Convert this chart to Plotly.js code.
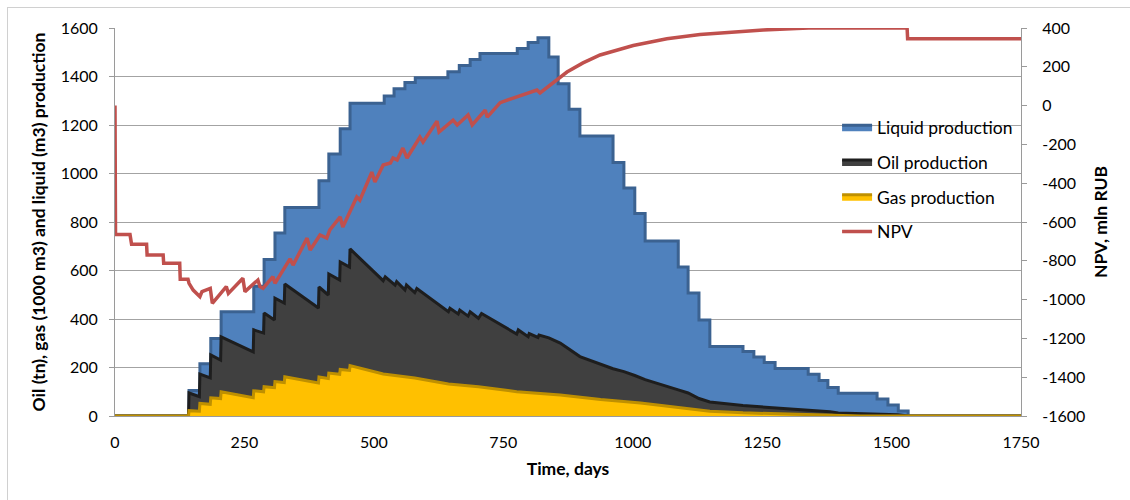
<!DOCTYPE html>
<html>
<head>
<meta charset="utf-8">
<script src="https://cdn.plot.ly/plotly-3.0.1.min.js"></script>
<style>
  html, body { margin: 0; padding: 0; background: #fff; }
  #wrap { position: relative; width: 1130px; height: 500px; overflow: hidden; }
  #chart { position: absolute; left: 0; top: 0; width: 1130px; height: 500px; }
  #frame { position: absolute; left: 7px; top: 7px; width: 1140px; height: 510px; border: 1px solid #d0d0d0; pointer-events: none; }
</style>
</head>
<body>
<div id="wrap"><div id="chart"></div><div id="frame"></div></div>
<script>
// ---- data ----
const seriesNames = ['Liquid production', 'Oil production', 'Gas production', 'NPV'];

// Liquid production: step levels (value holds from each day until the next)
const liquidDays = [0, 143, 164, 185, 205, 268, 288, 309, 328, 394, 413, 435, 454, 520, 539, 560, 580,
  643, 665, 686, 705, 777, 798, 817, 838, 856, 877, 898, 962, 983, 1004, 1024, 1088, 1107, 1128, 1149,
  1213, 1234, 1254, 1275, 1339, 1360, 1377, 1397, 1472, 1493, 1513, 1532, 1750];
const liquidValues = [0, 105, 215, 320, 430, 535, 645, 755, 860, 970, 1080, 1185, 1290, 1320, 1350, 1375, 1395,
  1420, 1445, 1470, 1495, 1515, 1540, 1560, 1480, 1370, 1265, 1155, 1045, 940, 835, 722, 614, 507, 396, 287,
  266, 243, 221, 196, 172, 146, 118, 94, 70, 45, 21, 0, 0];

// Oil production (sawtooth)
const oilDays = [0, 142, 143, 163, 164, 184, 185, 204, 205, 267, 268, 287, 288, 308, 309, 327, 328,
  393, 394, 412, 413, 434, 435, 453, 454, 518, 522, 541, 544, 560, 563, 579, 583,
  644, 647, 663, 666, 682, 686, 702, 708, 776, 779, 798, 800, 817, 819, 838,
  860, 879, 898, 962, 983, 1004, 1024, 1088, 1107, 1128, 1149, 1213, 1275, 1342, 1381, 1397, 1512, 1532, 1750];
const oilValues = [0, 0, 95, 80, 173, 157, 252, 231, 326, 264, 355, 342, 425, 396, 486, 466, 544,
  445, 532, 499, 586, 561, 635, 614, 689, 558, 574, 540, 554, 520, 540, 509, 526,
  430, 444, 421, 437, 412, 430, 403, 423, 338, 355, 327, 340, 324, 334, 322,
  301, 272, 245, 195, 183, 167, 150, 108, 95, 72, 58, 43, 33, 25, 18, 12, 5, 0, 0];

// Gas production
const gasDays = [0, 142, 143, 163, 164, 184, 185, 204, 205, 267, 268, 287, 288, 308, 309, 327, 328,
  393, 394, 412, 413, 434, 435, 453, 454, 518, 579, 644, 702, 776, 860, 938, 1015, 1066, 1149, 1213, 1317, 1397, 1440, 1750];
const gasValues = [0, 0, 22, 20, 52, 48, 75, 72, 100, 75, 104, 100, 121, 117, 142, 138, 162,
  136, 161, 155, 177, 172, 192, 188, 208, 173, 157, 132, 121, 100, 87, 68, 54, 40, 20, 13, 6, 3, 0, 0];

// NPV, mln RUB (right axis)
const npvDays = [0, 1, 29, 32, 61, 62, 93, 94, 125, 126, 141, 143, 151, 164, 168, 184, 188, 215, 219,
  247, 251, 276, 280, 286, 305, 309, 338, 344, 371, 377, 396, 409, 415, 435, 440, 467, 473, 496, 502,
  518, 532, 537, 545, 556, 564, 589, 595, 622, 626, 653, 661, 682, 690, 715, 719, 744, 769, 796, 815, 821,
  840, 873, 904, 937, 1001, 1066, 1130, 1194, 1252, 1317, 1340, 1530, 1531, 1750];
const npvValues = [0, -665, -665, -715, -715, -770, -770, -812, -812, -895, -895, -916, -951, -985, -959, -942, -1019, -933, -968,
  -890, -959, -899, -933, -942, -882, -916, -790, -822, -683, -744, -667, -683, -641, -574, -626, -471, -487, -343, -394,
  -306, -296, -270, -280, -219, -270, -162, -188, -80, -136, -75, -100, -48, -100, -23, -59, 15, 39, 65, 80, 65,
  106, 173, 220, 261, 310, 345, 366, 380, 390, 398, 400, 400, 345, 345];

const xTickVals = [0, 250, 500, 750, 1000, 1250, 1500, 1750];
const xMarkVals = [0, 500, 1000, 1500];
const npvTickVals = [-1600, -1400, -1200, -1000, -800, -600, -400, -200, 0, 200, 400];
const npvTickText = npvTickVals.map(v => String(v));

// ---- styles ----
const FONT = 'Lato, "Open Sans", "DejaVu Sans", sans-serif';
const GRID = '#a3a3a3';
const AXIS = '#9a9a9a';

const traces = [
  { x: liquidDays, y: liquidValues, name: seriesNames[0], type: 'scatter', mode: 'lines',
    line: { shape: 'hv', color: '#3b6291', width: 3 }, fill: 'tozeroy', fillcolor: '#4f81bd',
    legendgroup: 'a', hoverinfo: 'skip' },
  { x: oilDays, y: oilValues, name: seriesNames[1], type: 'scatter', mode: 'lines',
    line: { color: '#1e1e1e', width: 3 }, fill: 'tozeroy', fillcolor: '#404040',
    legendgroup: 'b', hoverinfo: 'skip' },
  { x: gasDays, y: gasValues, name: seriesNames[2], type: 'scatter', mode: 'lines',
    line: { color: '#bf9000', width: 3 }, fill: 'tozeroy', fillcolor: '#ffc000',
    legendgroup: 'c', hoverinfo: 'skip' },
  { x: npvDays, y: npvValues, name: seriesNames[3], type: 'scatter', mode: 'lines', yaxis: 'y2',
    line: { color: '#c0504d', width: 3.5 }, legendgroup: 'd', hoverinfo: 'skip' }
];

const layout = {
  width: 1130, height: 500,
  margin: { l: 115, r: 109, t: 28, b: 84 },
  paper_bgcolor: '#ffffff', plot_bgcolor: '#ffffff',
  font: { family: FONT, size: 16, color: '#000' },
  showlegend: true,
  legend: { x: 0.797, xanchor: 'left', y: 0.79, yanchor: 'top', bgcolor: 'rgba(0,0,0,0)',
    font: { family: FONT, size: 17.5, color: '#000' }, tracegroupgap: 9, traceorder: 'grouped' },
  xaxis: {
    range: [0, 1750], tickmode: 'array', tickvals: xTickVals, ticks: '',
    showgrid: false, zeroline: false, showline: true, linecolor: AXIS, linewidth: 1,
    layer: 'below traces', ticklabelstandoff: 12,
    tickfont: { family: FONT, size: 16, color: '#000' },
    title: { text: '<b>Time, days</b>', font: { family: FONT, size: 17.5, color: '#000' }, standoff: 12 }
  },
  xaxis2: {
    overlaying: 'x', anchor: 'y', side: 'bottom', range: [0, 1750], tickmode: 'array', tickvals: xMarkVals,
    ticks: 'outside', ticklen: 5, tickcolor: AXIS, showticklabels: false, showgrid: false, zeroline: false, showline: false
  },
  yaxis: {
    range: [0, 1600], dtick: 200, tick0: 0, showgrid: true, gridcolor: GRID, gridwidth: 1,
    zeroline: false, showline: true, linecolor: AXIS, ticks: 'outside', ticklen: 5, tickcolor: AXIS,
    layer: 'below traces', ticklabelstandoff: 8,
    tickfont: { family: FONT, size: 16, color: '#000' },
    title: { text: '<b>Oil (tn), gas (1000 m3) and liquid (m3) production</b>', font: { family: FONT, size: 17.5, color: '#000' }, standoff: 10 }
  },
  yaxis2: {
    overlaying: 'y', side: 'right', anchor: 'x', range: [-1600, 400],
    tickmode: 'array', tickvals: npvTickVals, ticktext: npvTickText,
    showgrid: false, zeroline: false, showline: true, linecolor: AXIS, ticks: 'outside', ticklen: 5, tickcolor: AXIS,
    layer: 'below traces', ticklabelstandoff: 12,
    tickfont: { family: FONT, size: 16, color: '#000' },
    title: { text: '<b>NPV, mln RUB</b>', font: { family: FONT, size: 17.5, color: '#000' }, standoff: 10 }
  }
};

Plotly.newPlot('chart', traces, layout, { staticPlot: true, displayModeBar: false });
</script>
</body>
</html>
